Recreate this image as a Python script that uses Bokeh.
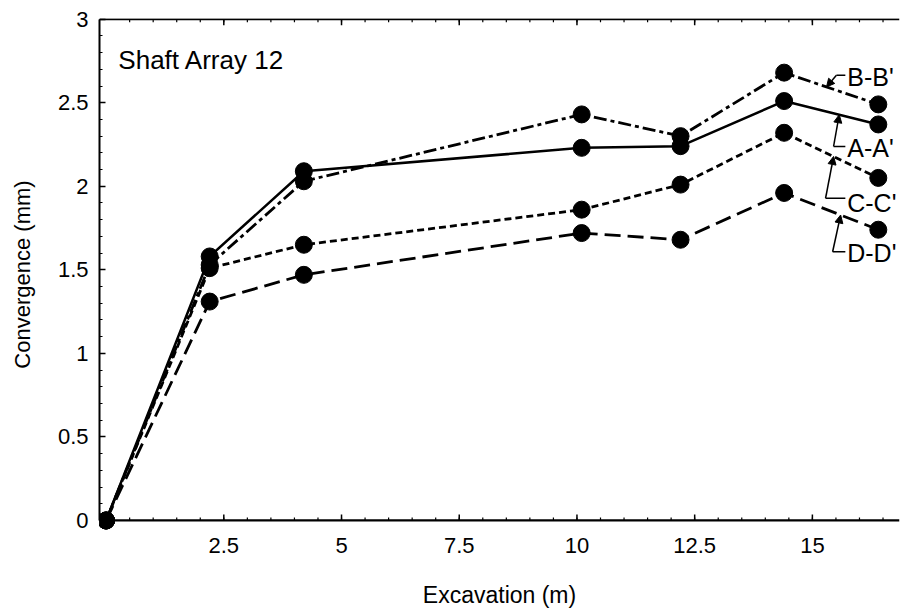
import numpy as np
from bokeh.plotting import figure
from bokeh.models import (Range1d, LinearAxis, FixedTicker, CustomJSTickFormatter,
                          Label, Arrow, NormalHead, Span)
from bokeh.embed import file_html
from bokeh.resources import INLINE

# Excavation depth (m) at each survey
excavation = [0.0, 2.2, 4.2, 10.1, 12.2, 14.4, 16.4]

# Convergence (mm) for each measurement line
conv_a = [0.0, 1.58, 2.09, 2.23, 2.24, 2.51, 2.37]
conv_b = [0.0, 1.53, 2.03, 2.43, 2.30, 2.68, 2.49]
conv_c = [0.0, 1.51, 1.65, 1.86, 2.01, 2.32, 2.05]
conv_d = [0.0, 1.31, 1.47, 1.72, 1.68, 1.96, 1.74]

series_names = ["A-A'", "B-B'", "C-C'", "D-D'"]

x_ticks = [2.5, 5, 7.5, 10, 12.5, 15]
x_minor = [0.5 * k for k in range(1, 34)]
y_ticks = [0, 0.5, 1, 1.5, 2, 2.5, 3]
y_minor = [round(0.1 * k, 1) for k in range(0, 31)]

FONT = "Liberation Sans"
Y_LO, Y_HI = -0.06, 3.004
X_LO, X_HI = -0.14, 16.85
PX_PER_Y = 512 / (Y_HI - Y_LO)

p = figure(width=900, height=610, output_backend="svg", toolbar_location=None,
           x_range=Range1d(X_LO, X_HI), y_range=Range1d(Y_LO, Y_HI),
           x_axis_type=None, y_axis_type=None,
           min_border_left=99, min_border_right=1,
           min_border_top=18, min_border_bottom=80)
p.outline_line_color = None
p.background_fill_color = "white"
p.border_fill_color = "white"

fmt = CustomJSTickFormatter(code="return String(tick)")

# Bottom axis: only tick labels and title; its line and ticks sit at y = 0 below
xaxis = LinearAxis(ticker=FixedTicker(ticks=x_ticks), formatter=fmt)
xaxis.axis_line_color = None
xaxis.major_tick_line_color = None
xaxis.minor_tick_line_color = None
xaxis.major_tick_in = 0
xaxis.major_tick_out = 0
xaxis.major_label_standoff = 7
xaxis.major_label_text_font = FONT
xaxis.major_label_text_font_size = "22px"
xaxis.major_label_text_color = "black"
xaxis.axis_label = "Excavation (m)"
xaxis.axis_label_text_font = FONT
xaxis.axis_label_text_font_style = "normal"
xaxis.axis_label_text_font_size = "23px"
xaxis.axis_label_text_color = "black"
xaxis.axis_label_standoff = 26
p.add_layout(xaxis, "below")

yaxis = LinearAxis(ticker=FixedTicker(ticks=y_ticks, minor_ticks=y_minor),
                   formatter=fmt, bounds=(0, 3))
yaxis.axis_line_color = "black"
yaxis.axis_line_width = 2
yaxis.major_tick_line_color = "black"
yaxis.major_tick_line_width = 1.5
yaxis.minor_tick_line_color = "black"
yaxis.minor_tick_line_width = 1.2
yaxis.major_tick_in = 6
yaxis.major_tick_out = 0
yaxis.minor_tick_in = 3
yaxis.minor_tick_out = 0
yaxis.major_label_standoff = 11
yaxis.major_label_text_font = FONT
yaxis.major_label_text_font_size = "22px"
yaxis.major_label_text_color = "black"
yaxis.axis_label = "Convergence (mm)"
yaxis.axis_label_text_font = FONT
yaxis.axis_label_text_font_style = "normal"
yaxis.axis_label_text_font_size = "22px"
yaxis.axis_label_text_color = "black"
yaxis.axis_label_standoff = 20
p.add_layout(yaxis, "left")

# x axis line at zero and the top border, each with inward ticks
p.add_layout(Span(location=0, dimension="width", line_color="black", line_width=2.2))
p.add_layout(Span(location=3, dimension="width", line_color="black", line_width=2))
maj_len = 6 / PX_PER_Y
min_len = 3 / PX_PER_Y
p.segment(x0=x_ticks, x1=x_ticks, y0=[0] * len(x_ticks), y1=[maj_len] * len(x_ticks),
          line_color="black", line_width=1.5)
p.segment(x0=x_minor, x1=x_minor, y0=[0] * len(x_minor), y1=[min_len] * len(x_minor),
          line_color="black", line_width=1.2)
p.segment(x0=x_ticks, x1=x_ticks, y0=[3] * len(x_ticks), y1=[3 - maj_len] * len(x_ticks),
          line_color="black", line_width=1.5)
p.segment(x0=x_minor, x1=x_minor, y0=[3] * len(x_minor), y1=[3 - min_len] * len(x_minor),
          line_color="black", line_width=1.2)

# Measurement lines
line_styles = {
    "A-A'": ("solid", 2.5, conv_a),
    "B-B'": ("13 4 4 4", 2.8, conv_b),
    "C-C'": ("7 4", 2.8, conv_c),
    "D-D'": ("16 7", 2.8, conv_d),
}
for name in ["D-D'", "C-C'", "B-B'", "A-A'"]:
    dash, lw, ys = line_styles[name]
    p.line(excavation, ys, line_color="black", line_width=lw, line_dash=dash,
           line_join="round")
    p.scatter(excavation, ys, size=17, marker="circle", fill_color="black",
              line_color="black")

# Leader callouts to the right of the last segment
callouts = {
    # name: (arrow tip x, bend dx, bend dy, label y)
    "B-B'": (15.30, 0.21, 0.07, 2.653),
    "A-A'": (15.57, -0.12, -0.19, 2.229),
    "C-C'": (15.45, -0.17, -0.25, 1.900),
    "D-D'": (15.60, -0.17, -0.22, 1.602),
}
text_x = 15.74
for name, (tx, cdx, cdy, ly) in callouts.items():
    ys = line_styles[name][2]
    ty = float(np.interp(tx, excavation, ys))
    cx = tx + cdx
    cy = ty + cdy
    p.line([text_x - 0.04, cx], [cy, cy], line_color="black", line_width=1.5)
    p.add_layout(Arrow(end=NormalHead(size=8, fill_color="black", line_color="black"),
                       x_start=cx, y_start=cy, x_end=tx, y_end=ty,
                       line_color="black", line_width=1.5))
    p.add_layout(Label(x=text_x, y=ly, text=name, text_font=FONT,
                       text_font_size="25px", text_color="black",
                       text_align="left", text_baseline="middle"))

p.add_layout(Label(x=0.26, y=2.755, text="Shaft Array 12", text_font=FONT,
                   text_font_size="26px", text_color="black",
                   text_align="left", text_baseline="middle"))

open("out.html", "w").write(file_html(p, INLINE))
